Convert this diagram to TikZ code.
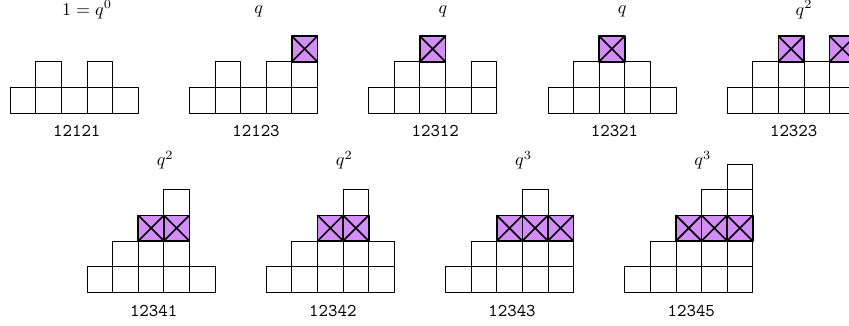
\documentclass[tikz,border=0pt]{standalone}
\usepackage{amsmath}
\usetikzlibrary{positioning}
\definecolor{QXfill}{HTML}{D38DF6}
\definecolor{QXink}{HTML}{000000}
% one plain cell and one marked cell, lower left corner given
\newcommand{\plaincell}[2]{%
  \draw[cellline] (#1,#2) rectangle ++(1,1);}
\newcommand{\markcell}[2]{%
  \draw[markline,fill=QXfill] (#1,#2) rectangle ++(1,1);
  \draw[markline] (#1,#2) -- ++(1,1) (#1,#2+1) -- ++(1,-1);}
% columns of heights #3, base corner (#1,#2); level 3 gets marked
\newcommand{\wordtower}[3]{%
  \foreach \h [count=\c] in {#3}{
    \foreach \r in {1,...,\h}{
      \ifnum\r=3 \markcell{#1+\c-1}{#2+\r-1}\else \plaincell{#1+\c-1}{#2+\r-1}\fi
    }}}

\begin{document}
\begin{tikzpicture}[
  x=5mm,y=5mm,
  line cap=round,line join=round,
  cellline/.style={draw=QXink,line width=0.45pt},
  markline/.style={draw=QXink,line width=0.9pt},
  weight/.style={font=\normalsize,text=QXink,inner sep=1pt},
  word/.style={font=\ttfamily\normalsize,text=QXink,inner sep=1pt}
]

\clip (-0.4,-1.32) rectangle (32.76,11.41);

% top row
\wordtower{0}{7}{1,2,1,2,1}
\node[weight] (q1) at (3,11.04) {$1=q^0$};
\node[word] (w1) at (2.6,6.28) {12121};

\wordtower{7}{7}{1,2,1,2,3}
\node[weight] (q2) at (9.7,10.98) {$q$};
\node[word] (w2) at (9.6,6.28) {12123};

\wordtower{14}{7}{1,2,3,1,2}
\node[weight] (q3) at (16.9,10.98) {$q$};
\node[word] (w3) at (16.6,6.28) {12312};

\wordtower{21}{7}{1,2,3,2,1}
\node[weight] (q4) at (23.9,10.98) {$q$};
\node[word] (w4) at (23.6,6.28) {12321};

\wordtower{28}{7}{1,2,3,2,3}
\node[weight] (q5) at (31,11.04) {$q^2$};
\node[word] (w5) at (30.6,6.28) {12323};

% bottom row
\wordtower{3}{0}{1,2,3,4,1}
\node[weight] (q6) at (6.05,5.15) {$q^2$};
\node[word] (w6) at (5.6,-0.72) {12341};

\wordtower{10}{0}{1,2,3,4,2}
\node[weight] (q7) at (13.05,5.15) {$q^2$};
\node[word] (w7) at (12.6,-0.72) {12342};

\wordtower{17}{0}{1,2,3,4,3}
\node[weight] (q8) at (20.05,5.15) {$q^3$};
\node[word] (w8) at (19.6,-0.72) {12343};

\wordtower{24}{0}{1,2,3,4,5}
\node[weight] (q9) at (27.05,5.15) {$q^3$};
\node[word] (w9) at (26.6,-0.72) {12345};

\end{tikzpicture}
\end{document}
